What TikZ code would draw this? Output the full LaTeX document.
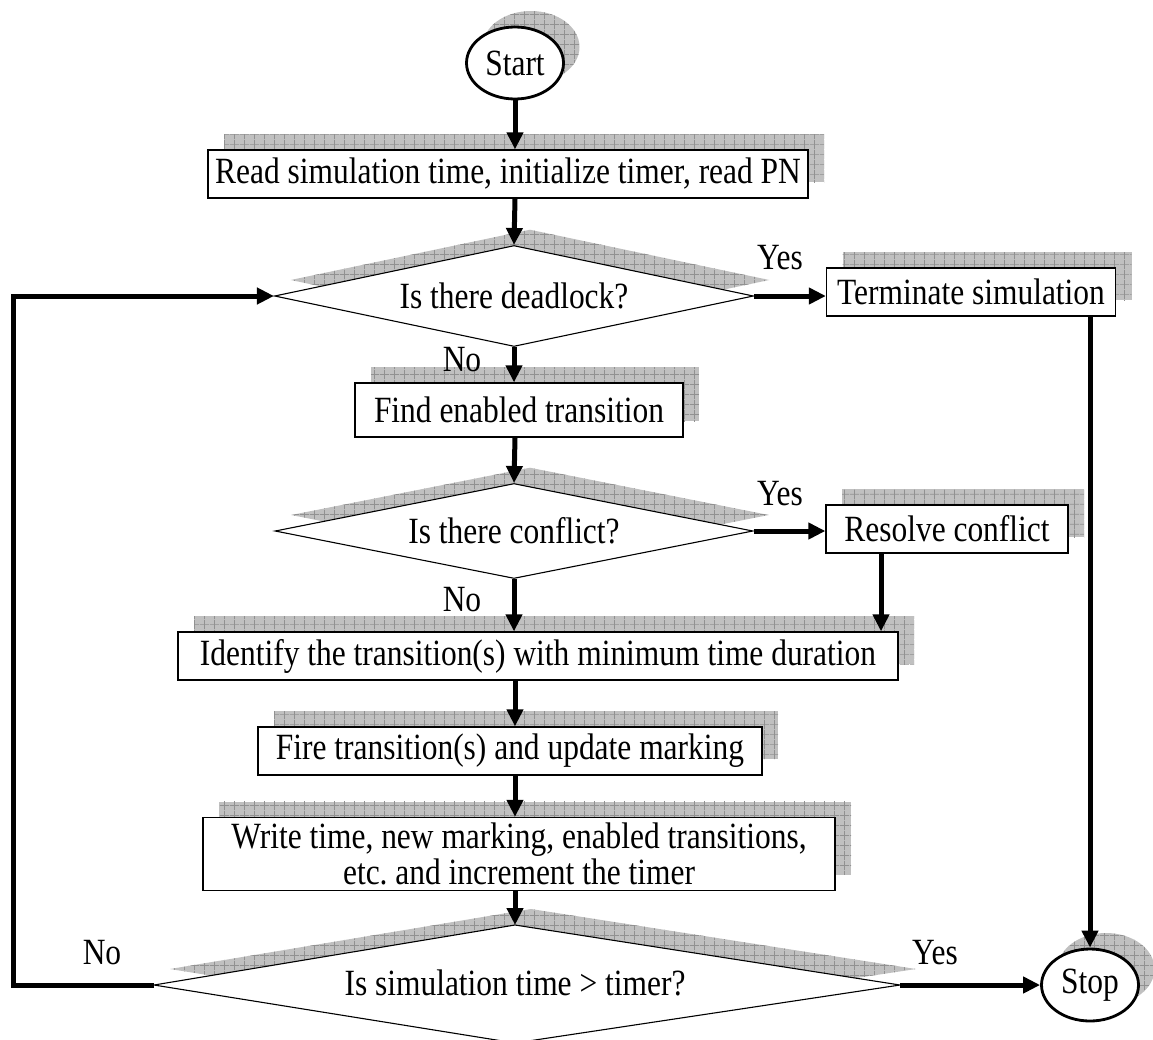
\documentclass[tikz,border=0pt]{standalone}
\usepackage{fontspec}
\setmainfont{Liberation Serif}[FakeStretch=0.85]
\usetikzlibrary{shapes.geometric,arrows.meta,patterns.meta,shadows}
\definecolor{shfill}{RGB}{192,192,192}
\definecolor{shline}{RGB}{145,145,145}
\tikzdeclarepattern{
  name=shgrid,
  type=uncolored,
  bounding box={(0pt,0pt) and (10pt,10pt)},
  tile size={(10pt,10pt)},
  code={\draw[line width=0.8pt] (0pt,5pt)--(10pt,5pt) (5pt,0pt)--(5pt,10pt);}
}
\frenchspacing
\begin{document}
\begin{tikzpicture}[x=1pt,y=-1pt,
  txt/.style={font=\fontsize{37}{40}\selectfont},
  sh/.style={general shadow={fill=shfill, shadow xshift=16pt, shadow yshift=16pt},
             general shadow={pattern=shgrid, pattern color=shline, shadow xshift=16pt, shadow yshift=16pt}},
  box/.style={txt, draw, line width=1.3pt, fill=white, rectangle, inner sep=0pt, sh},
  dia/.style={txt, draw, line width=1.1pt, fill=white, diamond, aspect=5, inner sep=0pt, sh},
  term/.style={txt, draw, line width=2.8pt, fill=white, ellipse, inner sep=0pt, minimum width=97pt, minimum height=72pt, sh},
  conn/.style={line width=5pt, -{Triangle[length=17pt,width=16pt]}},
  line/.style={line width=5pt}
]
\useasboundingbox (0,0) rectangle (1153,1039);

% nodes
\node[term] (start) at (515,63) {Start};
\node[box, minimum width=600pt, minimum height=48pt] (read) at (508,174) {Read simulation time, initialize timer, read PN};
\node[dia, minimum width=479pt, minimum height=101pt] (d1) at (514,296) {Is there deadlock?};
\node[box, minimum width=289pt, minimum height=48pt] (term) at (971,292) {Terminate simulation};
\node[box, minimum width=328pt, minimum height=54pt] (find) at (519,410) {Find enabled transition};
\node[dia, minimum width=478pt, minimum height=95pt] (d2) at (514,531) {Is there conflict?};
\node[box, minimum width=242pt, minimum height=48pt] (res) at (947,529) {Resolve conflict};
\node[box, minimum width=720pt, minimum height=48pt] (ident) at (538,656) {Identify the transition(s) with minimum time duration};
\node[box, minimum width=504pt, minimum height=48pt] (fire) at (510,751) {Fire transition(s) and update marking};
\node[box, minimum width=632pt, minimum height=73pt, align=center] (write) at (519,854) {Write time, new marking, enabled transitions,\\[-4pt]etc. and increment the timer};

% last decision drawn as a polygon
\coordinate (d3l) at (154,985);
\coordinate (d3t) at (515,925);
\coordinate (d3r) at (900,985);
\coordinate (d3b) at (515,1043);
\path[sh, draw, line width=1.1pt, fill=white] (d3l) -- (d3t) -- (d3r) -- (d3b) -- cycle;
\node[txt] (d3) at (515,983) {Is simulation time > timer?};

\node[term] (stop) at (1090,985) {Stop};

% labels
\node[txt] (y1) at (780,258) {Yes};
\node[txt] (n1) at (462,360) {No};
\node[txt] (y2) at (780,494) {Yes};
\node[txt] (n2) at (462,600) {No};
\node[txt] (n3) at (102,953) {No};
\node[txt] (y3) at (935,953) {Yes};

% connectors
\draw[conn] (start.south) -- (start.south |- read.north);
\draw[conn] (start |- read.south) -- (d1.north);
\draw[conn] (d1.east) -- (d1.east -| term.west);
\draw[conn] (d1.south) -- (d1.south |- find.north);
\draw[conn] (start |- find.south) -- (d2.north);
\draw[conn] (d2.east) -- (d2.east -| res.west);
\coordinate (rs) at ([xshift=-66pt]res.south);
\draw[conn] (rs) -- (rs |- ident.north);
\draw[conn] (d2.south) -- (d2.south |- ident.north);
\draw[conn] (start |- ident.south) -- (start |- fire.north);
\draw[conn] (start |- fire.south) -- (start |- write.north);
\draw[conn] (start |- write.south) -- (d3t);
\draw[conn] (d3r) -- (stop.west);
\draw[conn] (stop.north |- term.south) -- (stop.north);
\coordinate (lc) at (13,985);
\draw[conn] (d3l) -- (lc) |- (d1.west);
\end{tikzpicture}
\end{document}
